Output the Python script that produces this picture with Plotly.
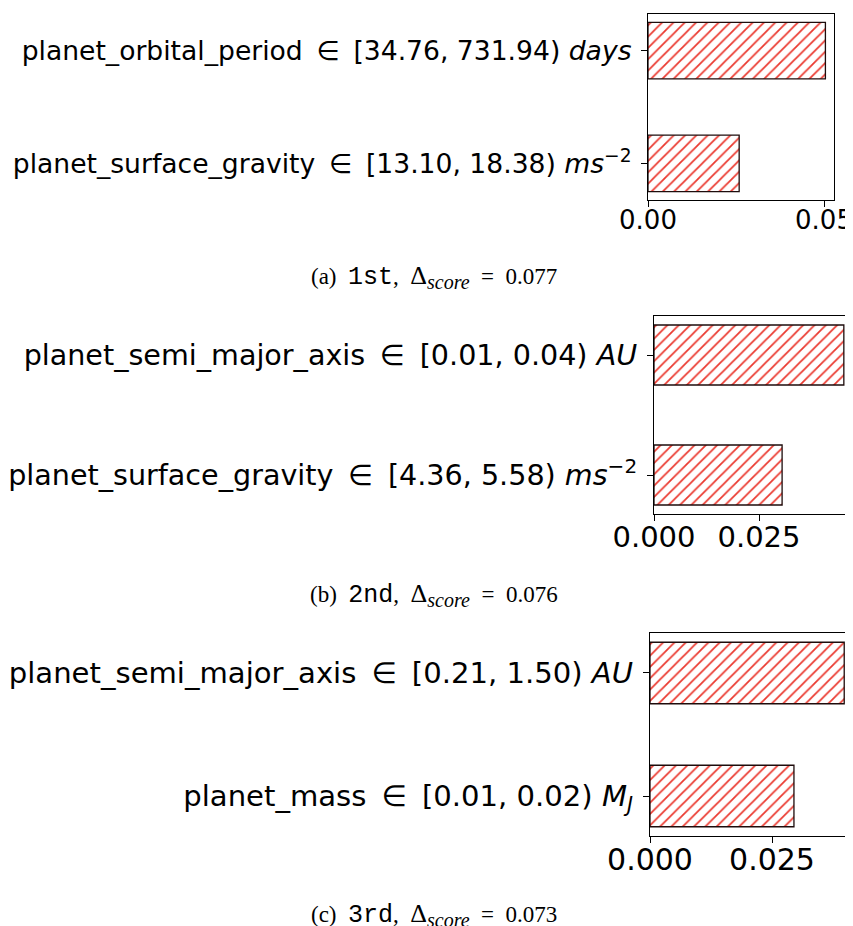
import plotly.graph_objects as go

# ---------------- data ----------------
labels_a = ["planet_orbital_period \u2009∈\u2009 [34.76, 731.94) <i>days</i>",
            "planet_surface_gravity \u2009∈\u2009 [13.10, 18.38) <i>ms</i><sup>−2</sup>"]
values_a = [0.0504, 0.0259]

labels_b = ["planet_semi_major_axis \u2009∈\u2009 [0.01, 0.04) <i>AU</i>",
            "planet_surface_gravity \u2009∈\u2009 [4.36, 5.58) <i>ms</i><sup>−2</sup>"]
values_b = [0.0452, 0.0305]

labels_c = ["planet_semi_major_axis \u2009∈\u2009 [0.21, 1.50) <i>AU</i>",
            "planet_mass \u2009∈\u2009 [0.01, 0.02) <i>M<sub>J</sub></i>"]
values_c = [0.0398, 0.0295]

captions = [
    ("(a)", "1st", "0.077"),
    ("(b)", "2nd", "0.076"),
    ("(c)", "3rd", "0.073"),
]

# ---------------- layout geometry ----------------
W, H = 853, 926
OFF = 8  # page body margin: the figure is drawn 8px right/down of the window corner
panels = [
    # labels, values, x-left px, x-right px, y-top px, y-bottom px, xmax, dtick, fmt, y font, x font, right spine
    (labels_a, values_a, 648, 834, 14, 200, 0.05284, 0.05, ".2f", 26.6, 26, True),
    (labels_b, values_b, 654, 853, 316, 514, 0.04738, 0.025, ".3f", 28.6, 29, False),
    (labels_c, values_c, 650, 853, 633, 836, 0.0416, 0.025, ".3f", 29.1, 30, False),
]
caption_y = [277, 595, 915]
caption_x = 434


def px_x(x):
    return (x - OFF) / W


def px_y(y):
    return 1 - (y - OFF) / H


fig = go.Figure()
layout = dict(
    template="none",
    width=W, height=H,
    margin=dict(l=0, r=0, t=0, b=0, autoexpand=False),
    paper_bgcolor="white", plot_bgcolor="white",
    showlegend=False,
    font=dict(family="DejaVu Sans", color="black"),
)

for i, (labs, vals, xl, xr, yt, yb, xmax, dt, fmt, fsy, fsx, rspine) in enumerate(panels):
    n = "" if i == 0 else str(i + 1)
    fig.add_trace(go.Bar(
        x=vals, y=labs, orientation="h", width=0.5,
        xaxis="x" + n, yaxis="y" + n,
        marker=dict(
            color="white",
            line=dict(color="#1e0c0c", width=1.3),
            pattern=dict(shape="/", fgcolor="#eb3a30", bgcolor="white",
                         size=8, solidity=0.22, fillmode="replace"),
        ),
        hoverinfo="skip",
    ))
    layout["xaxis" + n] = dict(
        domain=[px_x(xl), min(px_x(xr), 1.0)],
        anchor="y" + n,
        range=[0, xmax],
        dtick=dt, tick0=0, tickformat=fmt,
        showgrid=False, zeroline=False, automargin=False,
        showline=True, linecolor="black", linewidth=1.3, mirror=True,
        ticks="outside", ticklen=6, tickwidth=1.3, tickcolor="black",
        tickfont=dict(family="DejaVu Sans", size=fsx, color="black"),
        ticklabeloverflow="allow",
        ticklabelstandoff=-9,
    )
    layout["yaxis" + n] = dict(
        domain=[px_y(yb), px_y(yt)],
        anchor="x" + n,
        type="category",
        categoryorder="array", categoryarray=list(reversed(labs)),
        range=[-0.325, 1.325],
        showgrid=False, zeroline=False, automargin=False,
        showline=True, linecolor="black", linewidth=1.3, mirror=rspine,
        ticks="outside", ticklen=6, tickwidth=1.3, tickcolor="black",
        tickfont=dict(family="DejaVu Sans", size=fsy, color="black"),
        ticklabeloverflow="allow",
        ticklabelstandoff=4,
    )

annotations = []
for (tag, rank, score), cy in zip(captions, caption_y):
    txt = (f"{tag}\u2002<span style=\"font-family:'Liberation Mono';font-size:25px\">{rank}</span>,\u2002"
           f"<span style=\"font-size:26px\">Δ</span><sub><i><span style=\"font-size:20px\">score</span></i></sub>"
           f"\u2002=\u2002{score}")
    annotations.append(dict(
        text=txt, xref="paper", yref="paper", x=px_x(caption_x), y=px_y(cy),
        xanchor="center", yanchor="middle", showarrow=False,
        font=dict(family="Liberation Serif", size=23, color="black"),
    ))
layout["annotations"] = annotations

fig.update_layout(**layout)
fig.write_html("out.html")
